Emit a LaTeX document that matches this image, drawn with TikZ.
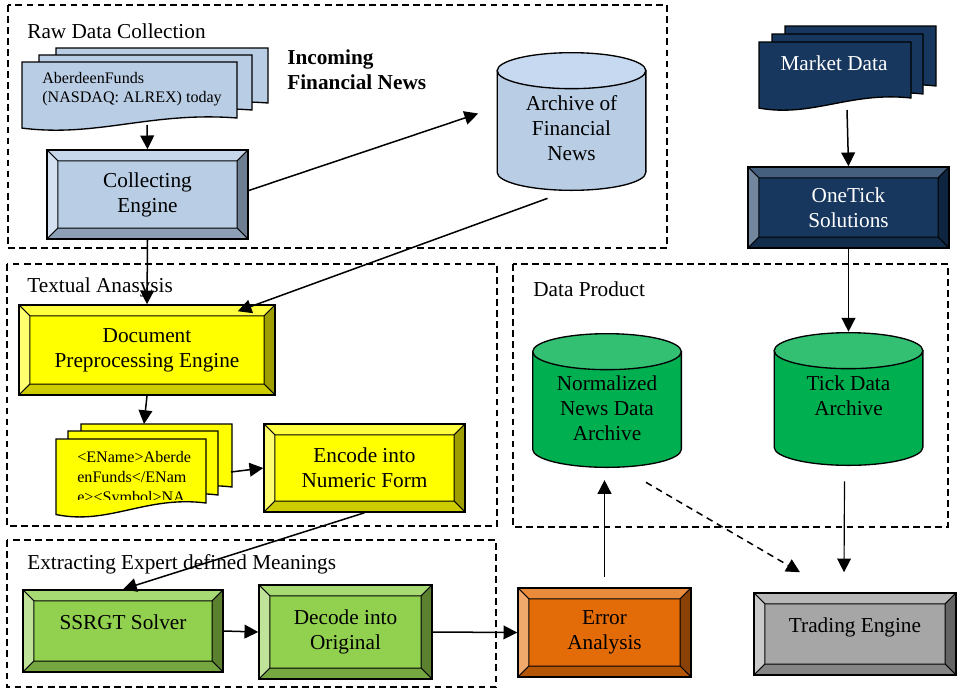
\documentclass[tikz,border=0pt]{standalone}
\usepackage{fontspec}
\setmainfont{Liberation Serif}
\usetikzlibrary{arrows.meta,calc}

\definecolor{steel}{HTML}{B9CDE5}
\definecolor{steeltop}{HTML}{C7D7EB}
\definecolor{steelleft}{HTML}{D5E1F0}
\definecolor{steelright}{HTML}{6E7E92}
\definecolor{steelbot}{HTML}{8DA0B7}
\definecolor{steelend}{HTML}{C6D9F0}
\definecolor{navy}{HTML}{17375E}
\definecolor{navytop}{HTML}{45607F}
\definecolor{navyleft}{HTML}{72869D}
\definecolor{navyright}{HTML}{0F243E}
\definecolor{navybot}{HTML}{122C4B}
\definecolor{yel}{HTML}{FFFF00}
\definecolor{yeltop}{HTML}{FFFF40}
\definecolor{yelleft}{HTML}{FFFF70}
\definecolor{yelright}{HTML}{9E9E00}
\definecolor{yelbot}{HTML}{CCCC00}
\definecolor{leaf}{HTML}{92D050}
\definecolor{leaftop}{HTML}{A8DA73}
\definecolor{leafleft}{HTML}{BEE399}
\definecolor{leafright}{HTML}{5B8030}
\definecolor{leafbot}{HTML}{75A640}
\definecolor{rust}{HTML}{E36C09}
\definecolor{rusttop}{HTML}{EA8B3B}
\definecolor{rustleft}{HTML}{F1A96B}
\definecolor{rustright}{HTML}{8A4106}
\definecolor{rustbot}{HTML}{B55607}
\definecolor{ash}{HTML}{A6A6A6}
\definecolor{ashtop}{HTML}{B8B8B8}
\definecolor{ashleft}{HTML}{CACACA}
\definecolor{ashright}{HTML}{646464}
\definecolor{ashbot}{HTML}{858585}
\definecolor{dbgreen}{HTML}{00B050}
\definecolor{dbgreenend}{HTML}{33C073}

\newcommand{\bevw}{6.5pt}
\newcommand{\cylrx}{44.4pt}
\newcommand{\cylry}{10.75pt}
% one page of a document stack: fill, x, y, width, height
\newcommand{\docpage}[5]{%
  \filldraw[fill=#1, line width=0.8pt] (#2,#3) -- ++(#4,0) -- ++(0,#5)
    .. controls +(-0.4*#4,-0.12*#5) and +(0.35*#4,0.17*#5) .. ++(-#4,0.18*#5) -- cycle;}

\tikzset{
  bevel/.style n args={5}{draw, line width=0.9pt, fill=#1, align=center,
    path picture={
      \coordinate (bsw) at (path picture bounding box.south west);
      \coordinate (bne) at (path picture bounding box.north east);
      \coordinate (bnw) at (bsw|-bne);
      \coordinate (bse) at (bne|-bsw);
      \filldraw[fill=#2, line width=0.6pt] (bnw) -- (bne) -- ($(bne)+(-\bevw,-\bevw)$) -- ($(bnw)+(\bevw,-\bevw)$) -- cycle;
      \filldraw[fill=#3, line width=0.6pt] (bnw) -- (bsw) -- ($(bsw)+(\bevw,\bevw)$) -- ($(bnw)+(\bevw,-\bevw)$) -- cycle;
      \filldraw[fill=#4, line width=0.6pt] (bne) -- (bse) -- ($(bse)+(-\bevw,\bevw)$) -- ($(bne)+(-\bevw,-\bevw)$) -- cycle;
      \filldraw[fill=#5, line width=0.6pt] (bsw) -- (bse) -- ($(bse)+(-\bevw,\bevw)$) -- ($(bsw)+(\bevw,\bevw)$) -- cycle;
    }},
  bluebevel/.style={bevel={steel}{steeltop}{steelleft}{steelright}{steelbot}},
  navybevel/.style={bevel={navy}{navytop}{navyleft}{navyright}{navybot}, text=white},
  yelbevel/.style={bevel={yel}{yeltop}{yelleft}{yelright}{yelbot}},
  leafbevel/.style={bevel={leaf}{leaftop}{leafleft}{leafright}{leafbot}},
  rustbevel/.style={bevel={rust}{rusttop}{rustleft}{rustright}{rustbot}},
  ashbevel/.style={bevel={ash}{ashtop}{ashleft}{ashright}{ashbot}},
  boxsize/.style 2 args={minimum width=#1*0.021cm, minimum height=#2*0.021cm},
  db/.style 2 args={align=center, minimum width=150*0.021cm,
    path picture={
      \filldraw[fill=#1, line width=0.8pt] ($(path picture bounding box.north west)+(0.4pt,-\cylry-0.4pt)$)
        -- ($(path picture bounding box.south west)+(0.4pt,\cylry+0.4pt)$)
        arc[start angle=180, end angle=360, x radius=\cylrx, y radius=\cylry]
        -- ($(path picture bounding box.north east)+(-0.4pt,-\cylry-0.4pt)$) -- cycle;
      \filldraw[fill=#2, line width=0.8pt] ($(path picture bounding box.north)+(0,-\cylry-0.4pt)$)
        ellipse[x radius=\cylrx, y radius=\cylry];
    }},
  frame/.style={draw, dash pattern=on 4pt off 2.6pt, line width=0.8pt},
  arr/.style={-{Triangle[length=8.2pt,width=8.2pt]}, line width=0.9pt},
  caption/.style={anchor=west, inner sep=0pt},
  doctext/.style={anchor=north west, align=left, inner sep=0pt, font=\fontsize{9.6}{11.3}\selectfont},
}

\begin{document}
\begin{tikzpicture}[x=0.021cm, y=-0.021cm, font=\fontsize{12.7}{14.9}\selectfont]
\useasboundingbox (0,0) rectangle (962,689);

% dashed groups
\draw[frame] (8,5) rectangle (667,248);
\draw[frame] (7,264) rectangle (497,526);
\draw[frame] (513,264) rectangle (948,527);
\draw[frame] (7,540) rectangle (496,687);
\node[caption] (rawlab) at (27,31) {Raw Data Collection};
\node[caption] (textlab) at (27,287) {Textual Anasysis};
\node[caption] (prodlab) at (533,289) {Data Product};
\node[caption] (extrlab) at (27,564) {Extracting Expert defined Meanings};

% document stacks
\docpage{steel}{56}{48}{212}{55}
\docpage{steel}{39}{55}{213}{55}
\docpage{steel}{22}{62}{215}{56}
\node[doctext] (news) at (42,72) {AberdeenFunds\\(NASDAQ: ALREX) today};
\node[caption, align=left, font=\fontsize{12.7}{14.9}\selectfont\bfseries] (incoming) at (287,70) {Incoming\\Financial News};

\docpage{yel}{81}{424}{151}{63}
\docpage{yel}{68}{431}{150}{64}
\docpage{yel}{56}{439}{150}{64}
\begin{scope}
\clip (56,439) rectangle (206,499);
\node[doctext, font=\fontsize{9.6}{12}\selectfont] (tags) at (77,451) {<EName>Aberde\\enFunds</ENam\\e><Symbol>NA};
\end{scope}

\docpage{navy}{785}{26}{151}{60}
\docpage{navy}{772}{34}{151}{60}
\docpage{navy}{759}{42}{152}{56}
\node[text=white] (market) at (834,63) {Market Data};

% engines
\node[bluebevel, boxsize={201}{89}] (collect) at (147.5,194.5) {Collecting\\Engine};
\node[navybevel, boxsize={201}{81}] (onetick) at (848.5,207.5) {OneTick\\Solutions};
\node[yelbevel, boxsize={256}{90}] (preproc) at (147,350) {Document\\Preprocessing Engine};
\node[yelbevel, boxsize={201}{88}] (encode) at (364.5,468) {Encode into\\Numeric Form};
\node[leafbevel, boxsize={200}{82}, text depth=11pt] (ssrgt) at (123,631) {SSRGT Solver};
\node[leafbevel, boxsize={173}{94}] (decode) at (345.5,632) {Decode into\\Original};
\node[rustbevel, boxsize={173}{89}] (error) at (604.5,632.5) {Error\\Analysis};
\node[ashbevel, boxsize={202}{82}, text depth=11pt] (trading) at (855,634) {Trading Engine};

% archives
\node[db={steel}{steelend}, minimum height=139*0.021cm, text height=46.3pt] (archive) at (571.5,121.5) {Archive of\\Financial\\News};
\node[db={dbgreen}{dbgreenend}, minimum height=135*0.021cm, text height=48.1pt] (norm) at (607,400.5) {Normalized\\News Data\\Archive};
\node[db={dbgreen}{dbgreenend}, minimum height=134*0.021cm, text depth=3.6pt] (tick) at (848.5,399) {Tick Data\\Archive};

% connectors
\coordinate (newsfoot) at (147,125);
\coordinate (tagtop) at (144,424);
\coordinate (tagside) at (231,472);
\coordinate (mktfoot) at (847,110);
\draw[arr] (newsfoot) -- (collect.north);
\draw[arr] ($(collect.east)+(0,-4)$) -- ($(archive.west)+(-18,-8)$);
\draw[arr] ($(archive.south)+(-24,7)$) -- ($(preproc.north east)+(-38,7)$);
\draw[arr] (collect.south) -- (preproc.north);
\draw[arr] (preproc.south) -- (tagtop);
\draw[arr] (tagside) -- (encode.west);
\draw[arr] (encode.south) -- (ssrgt.north);
\draw[arr] (ssrgt.east) -- (decode.west);
\draw[arr] (decode.east) -- (error.west);
\draw[arr, shorten <=6pt, shorten >=7pt] (error.north) -- (error.north |- norm.south);
\draw[arr, dash pattern=on 4pt off 3pt] ($(norm.south)+(39,14)$) -- ($(trading.north)+(-55,-20)$);
\draw[arr, line width=0.7pt] ($(tick.south)+(-4,15)$) -- ($(trading.north)+(-11,-20)$);
\draw[arr] (mktfoot) -- (onetick.north);
\draw[arr] (onetick.south) -- (tick.north);
\end{tikzpicture}
\end{document}
